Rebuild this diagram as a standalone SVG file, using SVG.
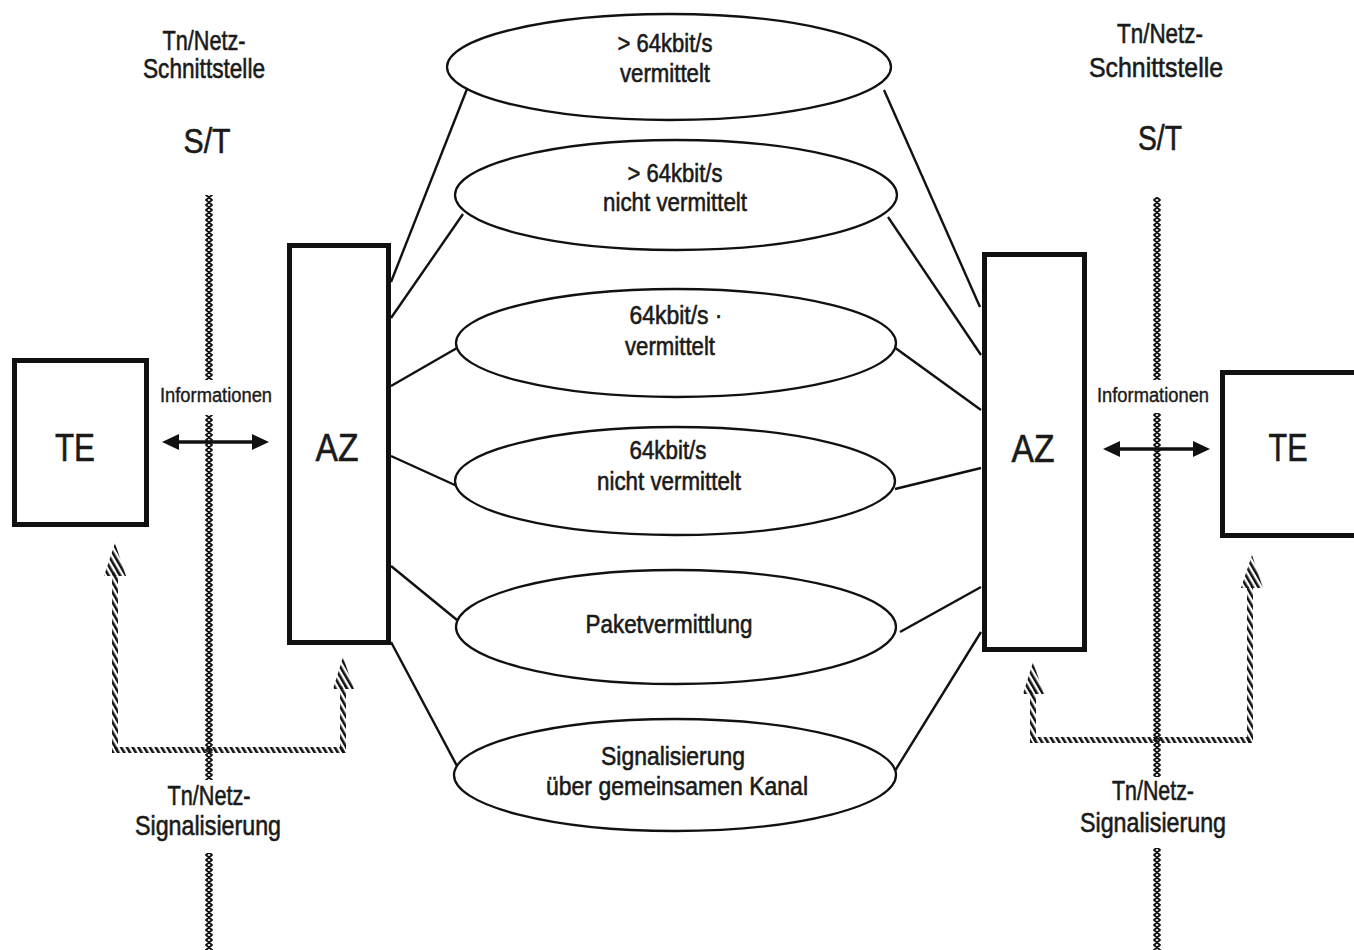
<svg xmlns="http://www.w3.org/2000/svg" width="1354" height="950" viewBox="0 0 1354 950">
<style>
.t{font-family:"Liberation Sans Narrow","Liberation Sans",Arial,sans-serif;fill:#1a1a1a;stroke:#1a1a1a;stroke-width:0.6;text-anchor:middle}
.big{font-size:28px}
.mid{font-size:26px}
.sm{font-size:20px;stroke-width:0.4}
.st{font-size:35px}
.box{font-size:39px}
.frame{fill:#fff;stroke:#111;stroke-width:5}
.ell{fill:#fff;stroke:#111;stroke-width:2.3}
.ln{stroke:#111;stroke-width:2.4;fill:none}
.arr{stroke:#111;stroke-width:3.5;fill:none}
.head{fill:#111}
</style>
<defs>
<pattern id="hatch" patternUnits="userSpaceOnUse" width="5" height="5" patternTransform="rotate(-30)">
<rect x="0" y="0" width="2.6" height="5" fill="#111"/>
</pattern>
<pattern id="rope" patternUnits="userSpaceOnUse" width="8" height="5">
<path d="M1,0 L7,5 M7,0 L1,5" stroke="#111" stroke-width="1.8" stroke-linecap="round" fill="none"/>
</pattern>
</defs>
<rect width="1354" height="950" fill="#fff"/>

<g id="labels-left">
<text class="t big" x="204" y="50" textLength="83" lengthAdjust="spacingAndGlyphs">Tn/Netz-</text>
<text class="t big" x="204" y="78" textLength="122" lengthAdjust="spacingAndGlyphs">Schnittstelle</text>
<text class="t st" x="207" y="153" textLength="47" lengthAdjust="spacingAndGlyphs">S/T</text>
<text class="t sm" x="216" y="402" textLength="112" lengthAdjust="spacingAndGlyphs">Informationen</text>
<text class="t big" x="209" y="805" textLength="83" lengthAdjust="spacingAndGlyphs">Tn/Netz-</text>
<text class="t big" x="208" y="835" textLength="146" lengthAdjust="spacingAndGlyphs">Signalisierung</text>
</g>
<g id="labels-right">
<text class="t big" x="1160" y="43" textLength="86" lengthAdjust="spacingAndGlyphs">Tn/Netz-</text>
<text class="t big" x="1156" y="77" textLength="134" lengthAdjust="spacingAndGlyphs">Schnittstelle</text>
<text class="t st" x="1160" y="150" textLength="44" lengthAdjust="spacingAndGlyphs">S/T</text>
<text class="t sm" x="1153" y="402" textLength="112" lengthAdjust="spacingAndGlyphs">Informationen</text>
<text class="t big" x="1153" y="800" textLength="82" lengthAdjust="spacingAndGlyphs">Tn/Netz-</text>
<text class="t big" x="1153" y="832" textLength="146" lengthAdjust="spacingAndGlyphs">Signalisierung</text>
</g>

<g id="connectors">
<line class="ln" x1="391" y1="282" x2="467" y2="89"/>
<line class="ln" x1="391" y1="318" x2="463" y2="214"/>
<line class="ln" x1="391" y1="386" x2="457" y2="348"/>
<line class="ln" x1="391" y1="456" x2="457" y2="486"/>
<line class="ln" x1="391" y1="566" x2="457" y2="620"/>
<line class="ln" x1="391" y1="642" x2="457" y2="766"/>
<line class="ln" x1="884" y1="90" x2="980" y2="307"/>
<line class="ln" x1="888" y1="217" x2="981" y2="355"/>
<line class="ln" x1="894" y1="347" x2="981" y2="410"/>
<line class="ln" x1="895" y1="489" x2="981" y2="468"/>
<line class="ln" x1="900" y1="632" x2="981" y2="587"/>
<line class="ln" x1="893" y1="774" x2="981" y2="632"/>
<g id="info-left">
<line class="arr" x1="176" y1="442" x2="255" y2="442"/>
<polygon class="head" points="162,442 179,434 179,450"/>
<polygon class="head" points="269,442 252,434 252,450"/>
</g>
<g id="info-right">
<line class="arr" x1="1117" y1="449" x2="1196" y2="449"/>
<polygon class="head" points="1103,449 1120,441 1120,457"/>
<polygon class="head" points="1210,449 1193,441 1193,457"/>
</g>
<g id="signal-left" fill="url(#hatch)">
<rect x="112" y="572" width="6" height="181"/>
<rect x="112" y="747" width="234" height="6"/>
<rect x="340" y="686" width="6" height="67"/>
<polygon points="115,543 104,576 126,576"/>
<polygon points="343,657 333,689 354,689"/>
</g>
<g id="signal-right" fill="url(#hatch)">
<rect x="1030" y="690" width="6" height="53"/>
<rect x="1030" y="737" width="223" height="6"/>
<rect x="1247" y="586" width="6" height="157"/>
<polygon points="1033,662 1023,694 1044,694"/>
<polygon points="1252,555 1241,588 1263,588"/>
</g>
</g>

<g id="interfaces">
<rect x="0" y="195" width="8" height="185" fill="url(#rope)" transform="translate(205,0)"/>
<rect x="0" y="415" width="8" height="365" fill="url(#rope)" transform="translate(205,0)"/>
<rect x="0" y="853" width="8" height="97" fill="url(#rope)" transform="translate(205,0)"/>
<rect x="0" y="197" width="8" height="183" fill="url(#rope)" transform="translate(1153,0)"/>
<rect x="0" y="413" width="8" height="364" fill="url(#rope)" transform="translate(1153,0)"/>
<rect x="0" y="848" width="8" height="102" fill="url(#rope)" transform="translate(1153,0)"/>
</g>

<g id="TE-left">
<rect class="frame" x="14.5" y="360.5" width="132" height="164"/>
<text class="t box" x="75" y="461" textLength="40" lengthAdjust="spacingAndGlyphs">TE</text>
</g>
<g id="AZ-left">
<rect class="frame" x="289.5" y="245.5" width="99" height="397"/>
<text class="t box" x="337" y="461" textLength="43" lengthAdjust="spacingAndGlyphs">AZ</text>
</g>
<g id="AZ-right">
<rect class="frame" x="984.5" y="254.5" width="100" height="395"/>
<text class="t box" x="1033" y="462" textLength="43" lengthAdjust="spacingAndGlyphs">AZ</text>
</g>
<g id="TE-right">
<rect class="frame" x="1222.5" y="372.5" width="140" height="163"/>
<text class="t box" x="1288" y="461" textLength="39" lengthAdjust="spacingAndGlyphs">TE</text>
</g>

<g id="E1">
<ellipse class="ell" cx="669" cy="67" rx="222" ry="53"/>
<text class="t mid" x="665" y="52" textLength="95" lengthAdjust="spacingAndGlyphs">&gt; 64kbit/s</text>
<text class="t mid" x="665" y="82" textLength="90" lengthAdjust="spacingAndGlyphs">vermittelt</text>
</g>
<g id="E2">
<ellipse class="ell" cx="676" cy="195" rx="221" ry="55"/>
<text class="t mid" x="675" y="182" textLength="95" lengthAdjust="spacingAndGlyphs">&gt; 64kbit/s</text>
<text class="t mid" x="675" y="211" textLength="144" lengthAdjust="spacingAndGlyphs">nicht vermittelt</text>
</g>
<g id="E3">
<ellipse class="ell" cx="676" cy="343" rx="220" ry="54"/>
<text class="t mid" x="676" y="324" textLength="93" lengthAdjust="spacingAndGlyphs">64kbit/s ·</text>
<text class="t mid" x="670" y="355" textLength="90" lengthAdjust="spacingAndGlyphs">vermittelt</text>
</g>
<g id="E4">
<ellipse class="ell" cx="675" cy="481" rx="220" ry="54"/>
<text class="t mid" x="668" y="459" textLength="77" lengthAdjust="spacingAndGlyphs">64kbit/s</text>
<text class="t mid" x="669" y="490" textLength="144" lengthAdjust="spacingAndGlyphs">nicht vermittelt</text>
</g>
<g id="E5">
<ellipse class="ell" cx="676" cy="627" rx="220" ry="57"/>
<text class="t mid" x="669" y="633" textLength="167" lengthAdjust="spacingAndGlyphs">Paketvermittlung</text>
</g>
<g id="E6">
<ellipse class="ell" cx="675" cy="775" rx="221" ry="56"/>
<text class="t mid" x="673" y="765" textLength="144" lengthAdjust="spacingAndGlyphs">Signalisierung</text>
<text class="t mid" x="677" y="795" textLength="262" lengthAdjust="spacingAndGlyphs">über gemeinsamen Kanal</text>
</g>
</svg>
